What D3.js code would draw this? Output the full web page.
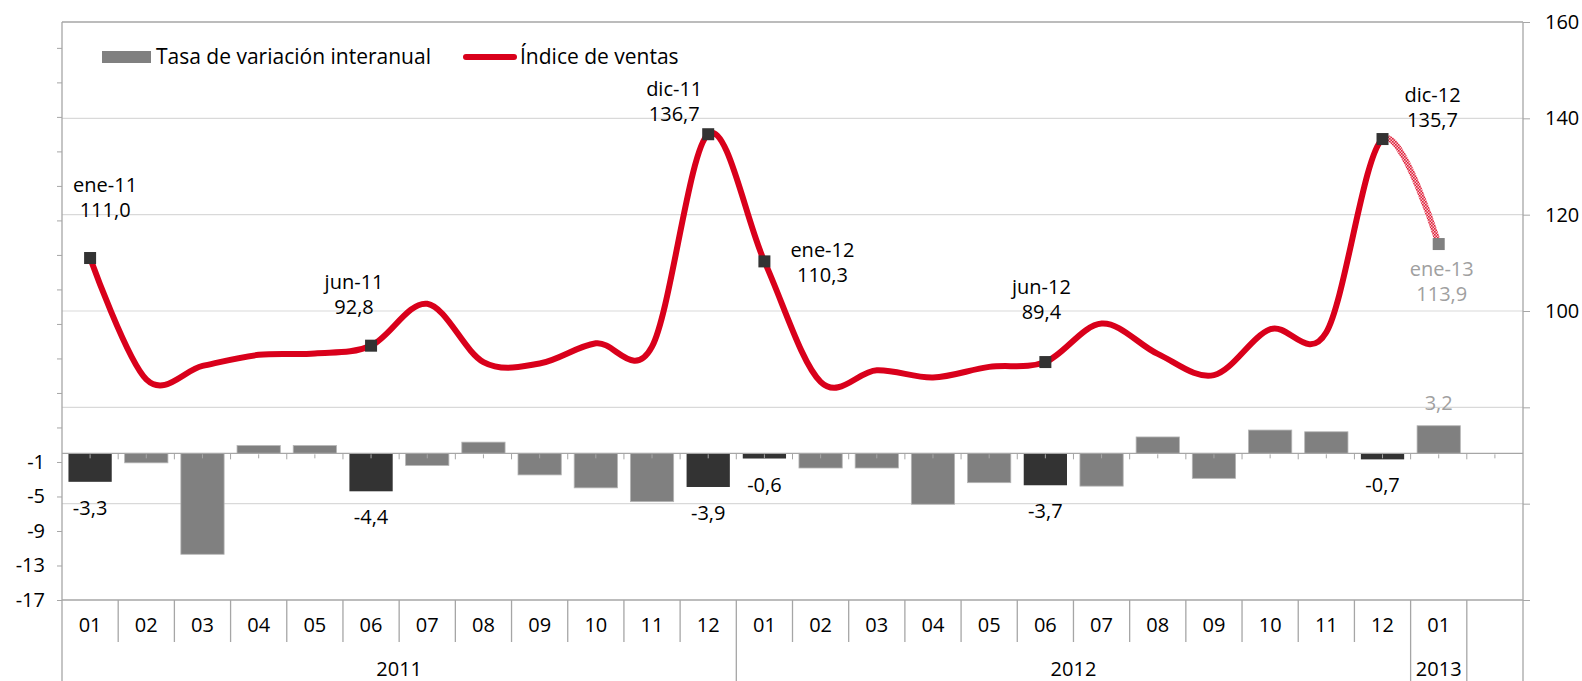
<!DOCTYPE html>
<html>
<head>
<meta charset="utf-8">
<script src="https://cdn.jsdelivr.net/npm/d3@7"></script>
<style>
  html, body { margin: 0; padding: 0; background: #fff; }
  svg { display: block; }
  text { font-family: "Open Sans", "DejaVu Sans", sans-serif; }
</style>
</head>
<body>
<div id="chart"></div>
<script>
// Data
const monthTicks = ['01','02','03','04','05','06','07','08','09','10','11','12',
                    '01','02','03','04','05','06','07','08','09','10','11','12',
                    '01',''];
const years = ['2011', '2012', '2013'];
const yearMonths = [12, 12, 1];
const periods = ['ene-11','feb-11','mar-11','abr-11','may-11','jun-11','jul-11','ago-11','sep-11','oct-11','nov-11','dic-11',
                 'ene-12','feb-12','mar-12','abr-12','may-12','jun-12','jul-12','ago-12','sep-12','oct-12','nov-12','dic-12',
                 'ene-13'];
const tasa = [-3.3, -1.1, -11.7, 0.9, 0.9, -4.4, -1.4, 1.3, -2.5, -4.0, -5.6, -3.9,
              -0.6, -1.7, -1.7, -5.9, -3.4, -3.7, -3.8, 1.9, -2.9, 2.7, 2.5, -0.7,
              3.2];
const indice = [111.0, 85.8, 88.6, 90.9, 91.2, 92.8, 101.5, 89.4, 89.1, 93.3, 92.6, 136.7,
                110.3, 85.3, 87.7, 86.2, 88.4, 89.4, 97.4, 91.1, 86.7, 96.2, 95.6, 135.7,
                113.9];
const highlighted = [0, 5, 11, 12, 17, 23];   // months with labels
const provisional = 24;                        // last month, shown in grey

// label offsets for the index labels (second line), px
const lineLabelOffset = {
  0: [15, -48], 5: [-17, -39], 11: [-34, -20], 12: [58, 14],
  17: [-4, -50], 23: [50, -19], 24: [3, 50]
};

const width = 1582, height = 681;
const m = { left: 62, right: 1523, top: 22, bottom: 600 };

const fmt = v => d3.format('.1f')(v).replace('.', ',').replace('\u2212', '-');

const svg = d3.select('#chart').append('svg')
  .attr('width', width).attr('height', height);

const idx = d3.range(monthTicks.length);
const x = d3.scaleBand().domain(idx).range([m.left, m.right]);
const bw = x.bandwidth();
const cx = i => x(i) + bw / 2;

const yL = d3.scaleLinear().domain([-17, 50]).range([m.bottom, m.top]);
const yR = d3.scaleLinear().domain([40, 160]).range([m.bottom, m.top]);

const axisColor = '#a6a6a6';

// gridlines (right axis)
svg.append('g').selectAll('line')
  .data([60, 80, 100, 120, 140])
  .join('line')
  .attr('x1', m.left).attr('x2', m.right)
  .attr('y1', d => yR(d)).attr('y2', d => yR(d))
  .attr('stroke', '#d9d9d9').attr('stroke-width', 1.2);

// left axis
const gL = svg.append('g').attr('transform', `translate(${m.left},0)`)
  .call(d3.axisLeft(yL).tickValues(d3.range(-17, 50, 4))
    .tickFormat(d => d < 0 ? d : '').tickSize(5).tickPadding(12));
// right axis
const gR = svg.append('g').attr('transform', `translate(${m.right},0)`)
  .call(d3.axisRight(yR).tickValues(d3.range(40, 161, 20))
    .tickFormat(d => d >= 100 ? d : '').tickSize(7).tickPadding(15));
[gL, gR].forEach(g => {
  g.select('.domain').remove();
  g.selectAll('line').attr('stroke', axisColor);
  g.selectAll('text').attr('font-size', 20).attr('fill', '#000');
});

// frame lines
const frame = svg.append('g').attr('stroke', axisColor).attr('stroke-width', 1.3);
frame.append('line').attr('x1', m.left).attr('x2', m.right).attr('y1', m.top).attr('y2', m.top);
frame.append('line').attr('x1', m.left).attr('x2', m.left).attr('y1', m.top).attr('y2', height);
frame.append('line').attr('x1', m.right).attr('x2', m.right).attr('y1', m.top).attr('y2', height);
frame.append('line').attr('x1', m.left).attr('x2', m.right).attr('y1', m.bottom).attr('y2', m.bottom);

// bars
svg.append('g').selectAll('rect')
  .data(tasa)
  .join('rect')
  .attr('x', (d, i) => x(i) + bw * 0.115)
  .attr('width', bw * 0.77)
  .attr('y', d => yL(Math.max(0, d)))
  .attr('height', d => Math.abs(yL(d) - yL(0)))
  .attr('fill', (d, i) => highlighted.includes(i) ? '#333333' : '#808080')
  .attr('stroke', (d, i) => highlighted.includes(i) ? 'none' : '#b5b5b5')
  .attr('stroke-width', 0.8);

// zero line and its small ticks
const zero = svg.append('g').attr('stroke', axisColor);
zero.append('line').attr('x1', m.left).attr('x2', m.right)
  .attr('y1', yL(0)).attr('y2', yL(0)).attr('stroke-width', 1.3);
zero.selectAll('line.maj').data(d3.range(1, monthTicks.length))
  .join('line').attr('class', 'maj')
  .attr('x1', i => x(i)).attr('x2', i => x(i))
  .attr('y1', yL(0)).attr('y2', yL(0) + 6);
zero.selectAll('line.min').data(idx)
  .join('line').attr('class', 'min')
  .attr('x1', i => cx(i)).attr('x2', i => cx(i))
  .attr('y1', yL(0) + 1).attr('y2', yL(0) + 5);

// bar labels
svg.append('g').selectAll('text')
  .data(highlighted)
  .join('text')
  .attr('x', i => cx(i))
  .attr('y', i => yL(tasa[i]) + 26)
  .attr('dy', '0.35em')
  .attr('text-anchor', 'middle')
  .attr('font-size', 20)
  .attr('fill', '#000')
  .text(i => fmt(tasa[i]));
svg.append('text')
  .attr('x', cx(provisional))
  .attr('y', yL(tasa[provisional]) - 23)
  .attr('dy', '0.35em')
  .attr('text-anchor', 'middle')
  .attr('font-size', 20)
  .attr('fill', '#a0a0a0')
  .text(fmt(tasa[provisional]));

// category axis
const gX = svg.append('g').attr('transform', `translate(0,${m.bottom})`)
  .call(d3.axisBottom(x).tickFormat(i => monthTicks[i]).tickSize(0).tickPadding(18));
gX.select('.domain').remove();
gX.selectAll('text').attr('font-size', 20).attr('fill', '#000');

// category separators
const yearBounds = [];
years.reduce((acc, y, k) => { acc += yearMonths[k]; yearBounds.push(acc); return acc; }, 0);
svg.append('g').attr('stroke', axisColor).attr('stroke-width', 1.3)
  .selectAll('line').data(d3.range(1, monthTicks.length))
  .join('line')
  .attr('x1', i => x(i)).attr('x2', i => x(i))
  .attr('y1', m.bottom)
  .attr('y2', i => yearBounds.includes(i) ? height : 642);

// year labels
svg.append('g').selectAll('text')
  .data(years)
  .join('text')
  .attr('x', (d, k) => {
    const start = k === 0 ? 0 : yearBounds[k - 1];
    return (x(start) + x(yearBounds[k] - 1) + bw) / 2;
  })
  .attr('y', 669)
  .attr('dy', '0.35em')
  .attr('text-anchor', 'middle')
  .attr('font-size', 20)
  .attr('fill', '#000')
  .text(d => d);

// hatch pattern for the provisional segment
const defs = svg.append('defs');
const pat = defs.append('pattern').attr('id', 'hatch')
  .attr('patternUnits', 'userSpaceOnUse').attr('width', 3).attr('height', 3);
pat.append('rect').attr('width', 3).attr('height', 3).attr('fill', '#f7c9cf');
pat.append('rect').attr('width', 1.6).attr('height', 1.6).attr('fill', '#e0203a');
pat.append('rect').attr('x', 1.5).attr('y', 1.5).attr('width', 1.5).attr('height', 1.5).attr('fill', '#e0203a');

defs.append('clipPath').attr('id', 'clipSolid').append('rect')
  .attr('x', 0).attr('y', 0).attr('width', cx(23)).attr('height', height);
defs.append('clipPath').attr('id', 'clipHatch').append('rect')
  .attr('x', cx(23)).attr('y', 0).attr('width', width - cx(23)).attr('height', height);

// index line
const line = d3.line()
  .x((d, i) => cx(i))
  .y(d => yR(d))
  .curve(d3.curveCatmullRom.alpha(0));

svg.append('path').datum(indice)
  .attr('d', line)
  .attr('fill', 'none')
  .attr('stroke', 'url(#hatch)')
  .attr('stroke-width', 6)
  .attr('clip-path', 'url(#clipHatch)');
svg.append('path').datum(indice)
  .attr('d', line)
  .attr('fill', 'none')
  .attr('stroke', '#d9001b')
  .attr('stroke-width', 6)
  .attr('stroke-linejoin', 'round')
  .attr('stroke-linecap', 'round')
  .attr('clip-path', 'url(#clipSolid)');

// markers
const marked = highlighted.concat([provisional]);
svg.append('g').selectAll('rect')
  .data(marked)
  .join('rect')
  .attr('x', i => cx(i) - 6)
  .attr('y', i => yR(indice[i]) - 6)
  .attr('width', 12).attr('height', 12)
  .attr('fill', i => i === provisional ? '#808080' : '#333333');

// index labels
const lab = svg.append('g').selectAll('g')
  .data(marked)
  .join('g')
  .attr('transform', i => {
    const o = lineLabelOffset[i];
    return `translate(${cx(i) + o[0]},${yR(indice[i]) + o[1]})`;
  })
  .attr('fill', i => i === provisional ? '#a0a0a0' : '#000')
  .attr('font-size', 20)
  .attr('text-anchor', 'middle');
lab.append('text').attr('y', -25).attr('dy', '0.35em').text(i => periods[i]);
lab.append('text').attr('y', 0).attr('dy', '0.35em').text(i => fmt(indice[i]));

// legend
const leg = svg.append('g');
leg.append('rect').attr('x', 102).attr('y', 51).attr('width', 49).attr('height', 12).attr('fill', '#808080');
leg.append('text').attr('x', 156).attr('y', 57).attr('dy', '0.35em')
  .attr('font-size', 21).attr('fill', '#000').text('Tasa de variación interanual');
leg.append('line').attr('x1', 466).attr('x2', 514).attr('y1', 57).attr('y2', 57)
  .attr('stroke', '#d9001b').attr('stroke-width', 6).attr('stroke-linecap', 'round');
leg.append('text').attr('x', 520).attr('y', 57).attr('dy', '0.35em')
  .attr('font-size', 21).attr('fill', '#000').text('Índice de ventas');
</script>
</body>
</html>
